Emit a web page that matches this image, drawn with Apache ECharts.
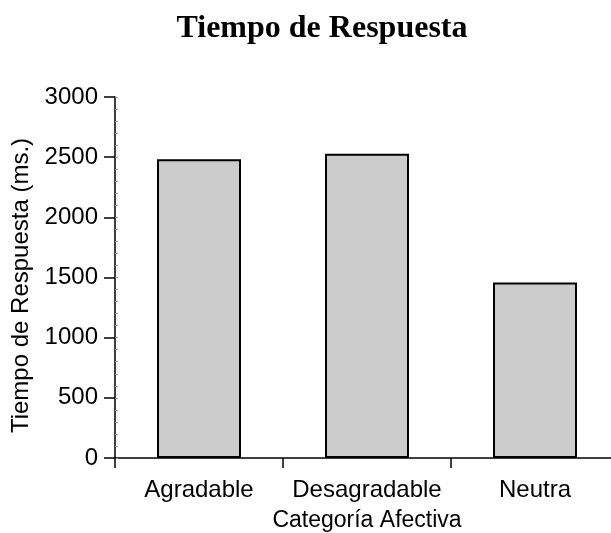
<!DOCTYPE html>
<html>
<head>
<meta charset="utf-8">
<script src="https://cdn.jsdelivr.net/npm/echarts@6/dist/echarts.min.js"></script>
<style>html,body{margin:0;padding:0;background:#fff}#c{width:611px;height:533px}</style>
</head>
<body>
<div id="c"></div>
<script>
// Mean response time per affective category (ms)
const categories = ['Agradable', 'Desagradable', 'Neutra'];
const responseTimes = [2483, 2529, 1458];
const yTicks = [0, 500, 1000, 1500, 2000, 2500, 3000];

const chart = echarts.init(document.getElementById('c'), null, { renderer: 'canvas' });
const sans = 'Liberation Sans, Arial, sans-serif';

chart.setOption({
  animation: false,
  backgroundColor: '#fff',
  title: {
    text: 'Tiempo de Respuesta',
    left: 317,
    textAlign: 'center',
    top: 8,
    textStyle: { fontFamily: 'Liberation Serif, Times New Roman, serif', fontWeight: 'bold', fontSize: 32, color: '#000' }
  },
  grid: { left: 115, width: 504, top: 97, bottom: 75, containLabel: false, outerBoundsMode: 'none' },
  xAxis: {
    type: 'category',
    data: categories,
    name: 'Categoría Afectiva',
    nameLocation: 'middle',
    nameGap: 51,
    nameTextStyle: { fontFamily: sans, fontSize: 23, color: '#000' },
    axisLine: { lineStyle: { color: '#000', width: 1.5 } },
    axisTick: { show: true, alignWithLabel: false, length: 10, lineStyle: { color: '#000', width: 1.5 } },
    axisLabel: { fontFamily: sans, fontSize: 24, color: '#000', margin: 20, interval: 0, hideOverlap: false }
  },
  yAxis: [{
    type: 'value',
    min: yTicks[0],
    max: yTicks[yTicks.length - 1],
    interval: yTicks[1] - yTicks[0],
    name: 'Tiempo de Respuesta (ms.)',
    nameLocation: 'middle',
    nameGap: 75,
    nameTextStyle: { fontFamily: sans, fontSize: 24, color: '#000', padding: [0, 16, 0, 0] },
    axisLine: { show: true, lineStyle: { color: '#000', width: 1.5 } },
    axisTick: { show: true, length: 11, lineStyle: { color: '#000', width: 1.5 } },
    axisLabel: { fontFamily: sans, fontSize: 24, color: '#000', margin: 17, formatter: v => String(v) },
    splitLine: { show: false }
  }, {
    // minor ticks drawn inside the plot along the value axis
    type: 'value',
    position: 'left',
    min: yTicks[0],
    max: yTicks[yTicks.length - 1],
    interval: 100,
    axisLine: { show: false },
    axisTick: { show: true, inside: true, length: 3, lineStyle: { color: '#999', width: 1 } },
    axisLabel: { show: false },
    splitLine: { show: false }
  }],
  series: [{
    type: 'bar',
    data: responseTimes,
    barWidth: '50%',
    itemStyle: { color: '#cccccc', borderColor: '#000', borderWidth: 2 }
  }]
});
</script>
</body>
</html>
